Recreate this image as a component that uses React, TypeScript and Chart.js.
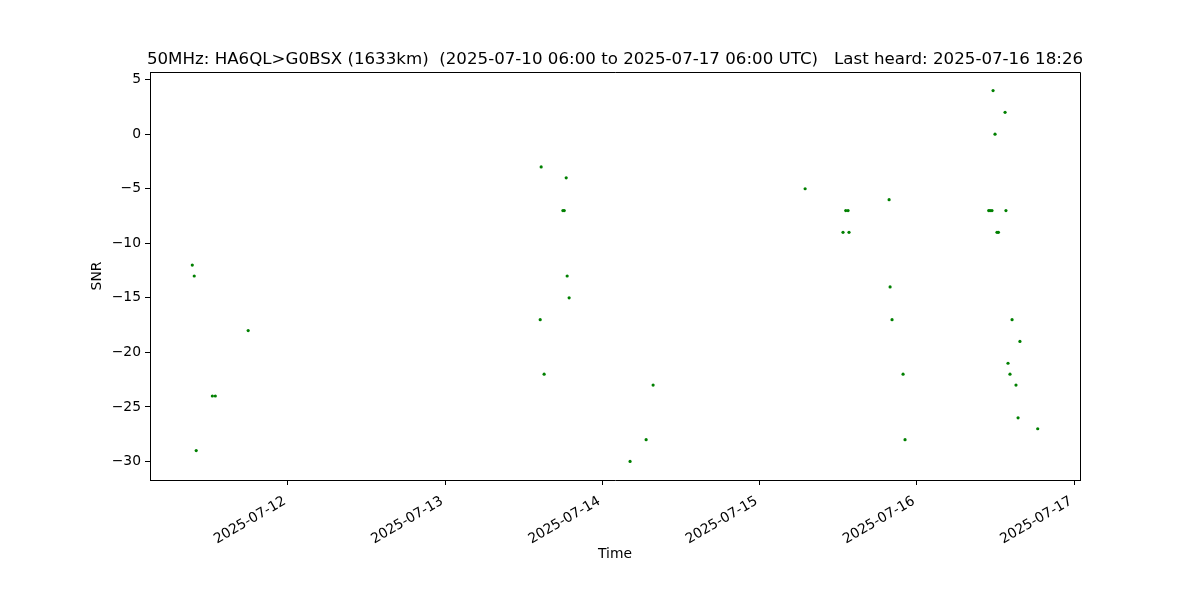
import React, { useEffect, useRef } from "react";
import { Chart, registerables } from "chart.js";

Chart.register(...registerables);

const titleText =
  "50MHz: HA6QL>G0BSX (1633km)  (2025-07-10 06:00 to 2025-07-17 06:00 UTC)   Last heard: 2025-07-16 18:26";
const xLabel = "Time";
const yLabel = "SNR";

const times: string[] = [
  "2025-07-11 09:24", "2025-07-11 09:42", "2025-07-11 10:00", "2025-07-11 12:28",
  "2025-07-11 12:55", "2025-07-11 17:56",
  "2025-07-13 14:30", "2025-07-13 14:39", "2025-07-13 15:06", "2025-07-13 17:58",
  "2025-07-13 18:10", "2025-07-13 18:28", "2025-07-13 18:37", "2025-07-13 18:55",
  "2025-07-14 04:13", "2025-07-14 06:40", "2025-07-14 07:44",
  "2025-07-15 06:56", "2025-07-15 12:43", "2025-07-15 13:08", "2025-07-15 13:29",
  "2025-07-15 13:38", "2025-07-15 19:45", "2025-07-15 19:54", "2025-07-15 20:12",
  "2025-07-15 21:53", "2025-07-15 22:11",
  "2025-07-16 10:57", "2025-07-16 11:10", "2025-07-16 11:27", "2025-07-16 11:37",
  "2025-07-16 11:55", "2025-07-16 12:13", "2025-07-16 12:26", "2025-07-16 13:27",
  "2025-07-16 13:35", "2025-07-16 13:54", "2025-07-16 14:12", "2025-07-16 14:31",
  "2025-07-16 15:07", "2025-07-16 15:26", "2025-07-16 15:43", "2025-07-16 18:26",
];
const snrValues: number[] = [
  -12, -13, -29, -24,
  -24, -18,
  -17, -3, -22, -7,
  -7, -4, -13, -15,
  -30, -28, -23,
  -5, -9, -7, -7,
  -9, -6, -14, -17,
  -22, -28,
  -7, -7, -7, 4,
  0, -9, -9, 2,
  -7, -21, -22, -17,
  -23, -26, -19, -27,
];
const xTickDates: string[] = [
  "2025-07-12", "2025-07-13", "2025-07-14", "2025-07-15", "2025-07-16", "2025-07-17",
];
const yTickValues: number[] = [-30, -25, -20, -15, -10, -5, 0, 5];

const FONT = "'DejaVu Sans', sans-serif";

function parseUTC(s: string): number {
  const [d, t] = s.split(" ");
  const [Y, M, D] = d.split("-").map(Number);
  const [h, m] = (t || "00:00").split(":").map(Number);
  return Date.UTC(Y, M - 1, D, h, m);
}

function fmtNum(v: number): string {
  return v < 0 ? "\u2212" + Math.abs(v) : String(v);
}

export default function App() {
  const ref = useRef<HTMLCanvasElement | null>(null);

  useEffect(() => {
    if (!ref.current) return;
    const pts = times.map((t, i) => ({ x: parseUTC(t), y: snrValues[i] }));
    const xs = pts.map((p) => p.x);
    const ys = pts.map((p) => p.y);
    const xMin = Math.min(...xs), xMax = Math.max(...xs);
    const yMin = Math.min(...ys), yMax = Math.max(...ys);
    const xm = (xMax - xMin) * 0.05;
    const ym = (yMax - yMin) * 0.05;

    const textPlugin = {
      id: "mplText",
      afterDraw(chart: any) {
        const { ctx, chartArea } = chart;
        const { left, right, top, bottom } = chartArea;
        ctx.save();
        ctx.strokeStyle = "#000";
        ctx.lineWidth = 1;
        ctx.beginPath();
        ctx.moveTo(left, top + 0.5);
        ctx.lineTo(right + 0.5, top + 0.5);
        ctx.lineTo(right + 0.5, bottom);
        ctx.stroke();
        ctx.fillStyle = "#000";
        ctx.font = `16.67px ${FONT}`;
        ctx.textAlign = "center";
        ctx.textBaseline = "alphabetic";
        ctx.fillText(titleText, (left + right) / 2, top - 8);
        ctx.font = `13.89px ${FONT}`;
        ctx.textBaseline = "middle";
        ctx.fillText(xLabel, (left + right) / 2, 554);
        ctx.translate(97, (top + bottom) / 2);
        ctx.rotate(-Math.PI / 2);
        ctx.fillText(yLabel, 0, 0);
        ctx.restore();
      },
    };

    const chart = new Chart(ref.current, {
      type: "scatter",
      data: {
        datasets: [
          {
            data: pts,
            backgroundColor: "#008000",
            borderColor: "#008000",
            pointRadius: 1.6,
            pointBorderWidth: 0,
            pointHoverRadius: 1.6,
          },
        ],
      },
      options: {
        animation: false,
        responsive: false,
        devicePixelRatio: 1,
        layout: { padding: { top: 72, right: 120, bottom: 0, left: 0 } },
        plugins: {
          legend: { display: false },
          tooltip: { enabled: false },
          title: { display: false },
        },
        scales: {
          x: {
            type: "linear",
            min: xMin - xm,
            max: xMax + xm,
            afterBuildTicks: (scale: any) => {
              scale.ticks = xTickDates.map((d) => ({ value: parseUTC(d) }));
            },
            afterFit: (scale: any) => {
              scale.height = 120;
            },
            ticks: {
              color: "#000",
              font: { family: FONT, size: 13.89 },
              minRotation: 30,
              maxRotation: 30,
              padding: 8,
              labelOffset: -3,
              autoSkip: false,
              callback: (v: any) => new Date(Number(v)).toISOString().slice(0, 10),
            },
            grid: {
              drawOnChartArea: false,
              drawTicks: true,
              tickLength: 5,
              tickColor: "#000",
              color: "#000",
            },
            border: { display: true, color: "#000", width: 1 },
          },
          y: {
            type: "linear",
            min: yMin - ym,
            max: yMax + ym,
            afterBuildTicks: (scale: any) => {
              scale.ticks = yTickValues.map((v) => ({ value: v }));
            },
            afterFit: (scale: any) => {
              scale.width = 150;
            },
            ticks: {
              color: "#000",
              font: { family: FONT, size: 13.89 },
              padding: 4,
              autoSkip: false,
              callback: (v: any) => fmtNum(Number(v)),
            },
            grid: {
              drawOnChartArea: false,
              drawTicks: true,
              tickLength: 5,
              tickColor: "#000",
              color: "#000",
            },
            border: { display: true, color: "#000", width: 1 },
          },
        },
      },
      plugins: [textPlugin],
    } as any);
    return () => chart.destroy();
  }, []);

  return (
    <div style={{ position: "absolute", left: 0, top: 0, width: 1200, height: 600, background: "#fff" }}>
      <canvas ref={ref} width={1200} height={600} />
    </div>
  );
}
